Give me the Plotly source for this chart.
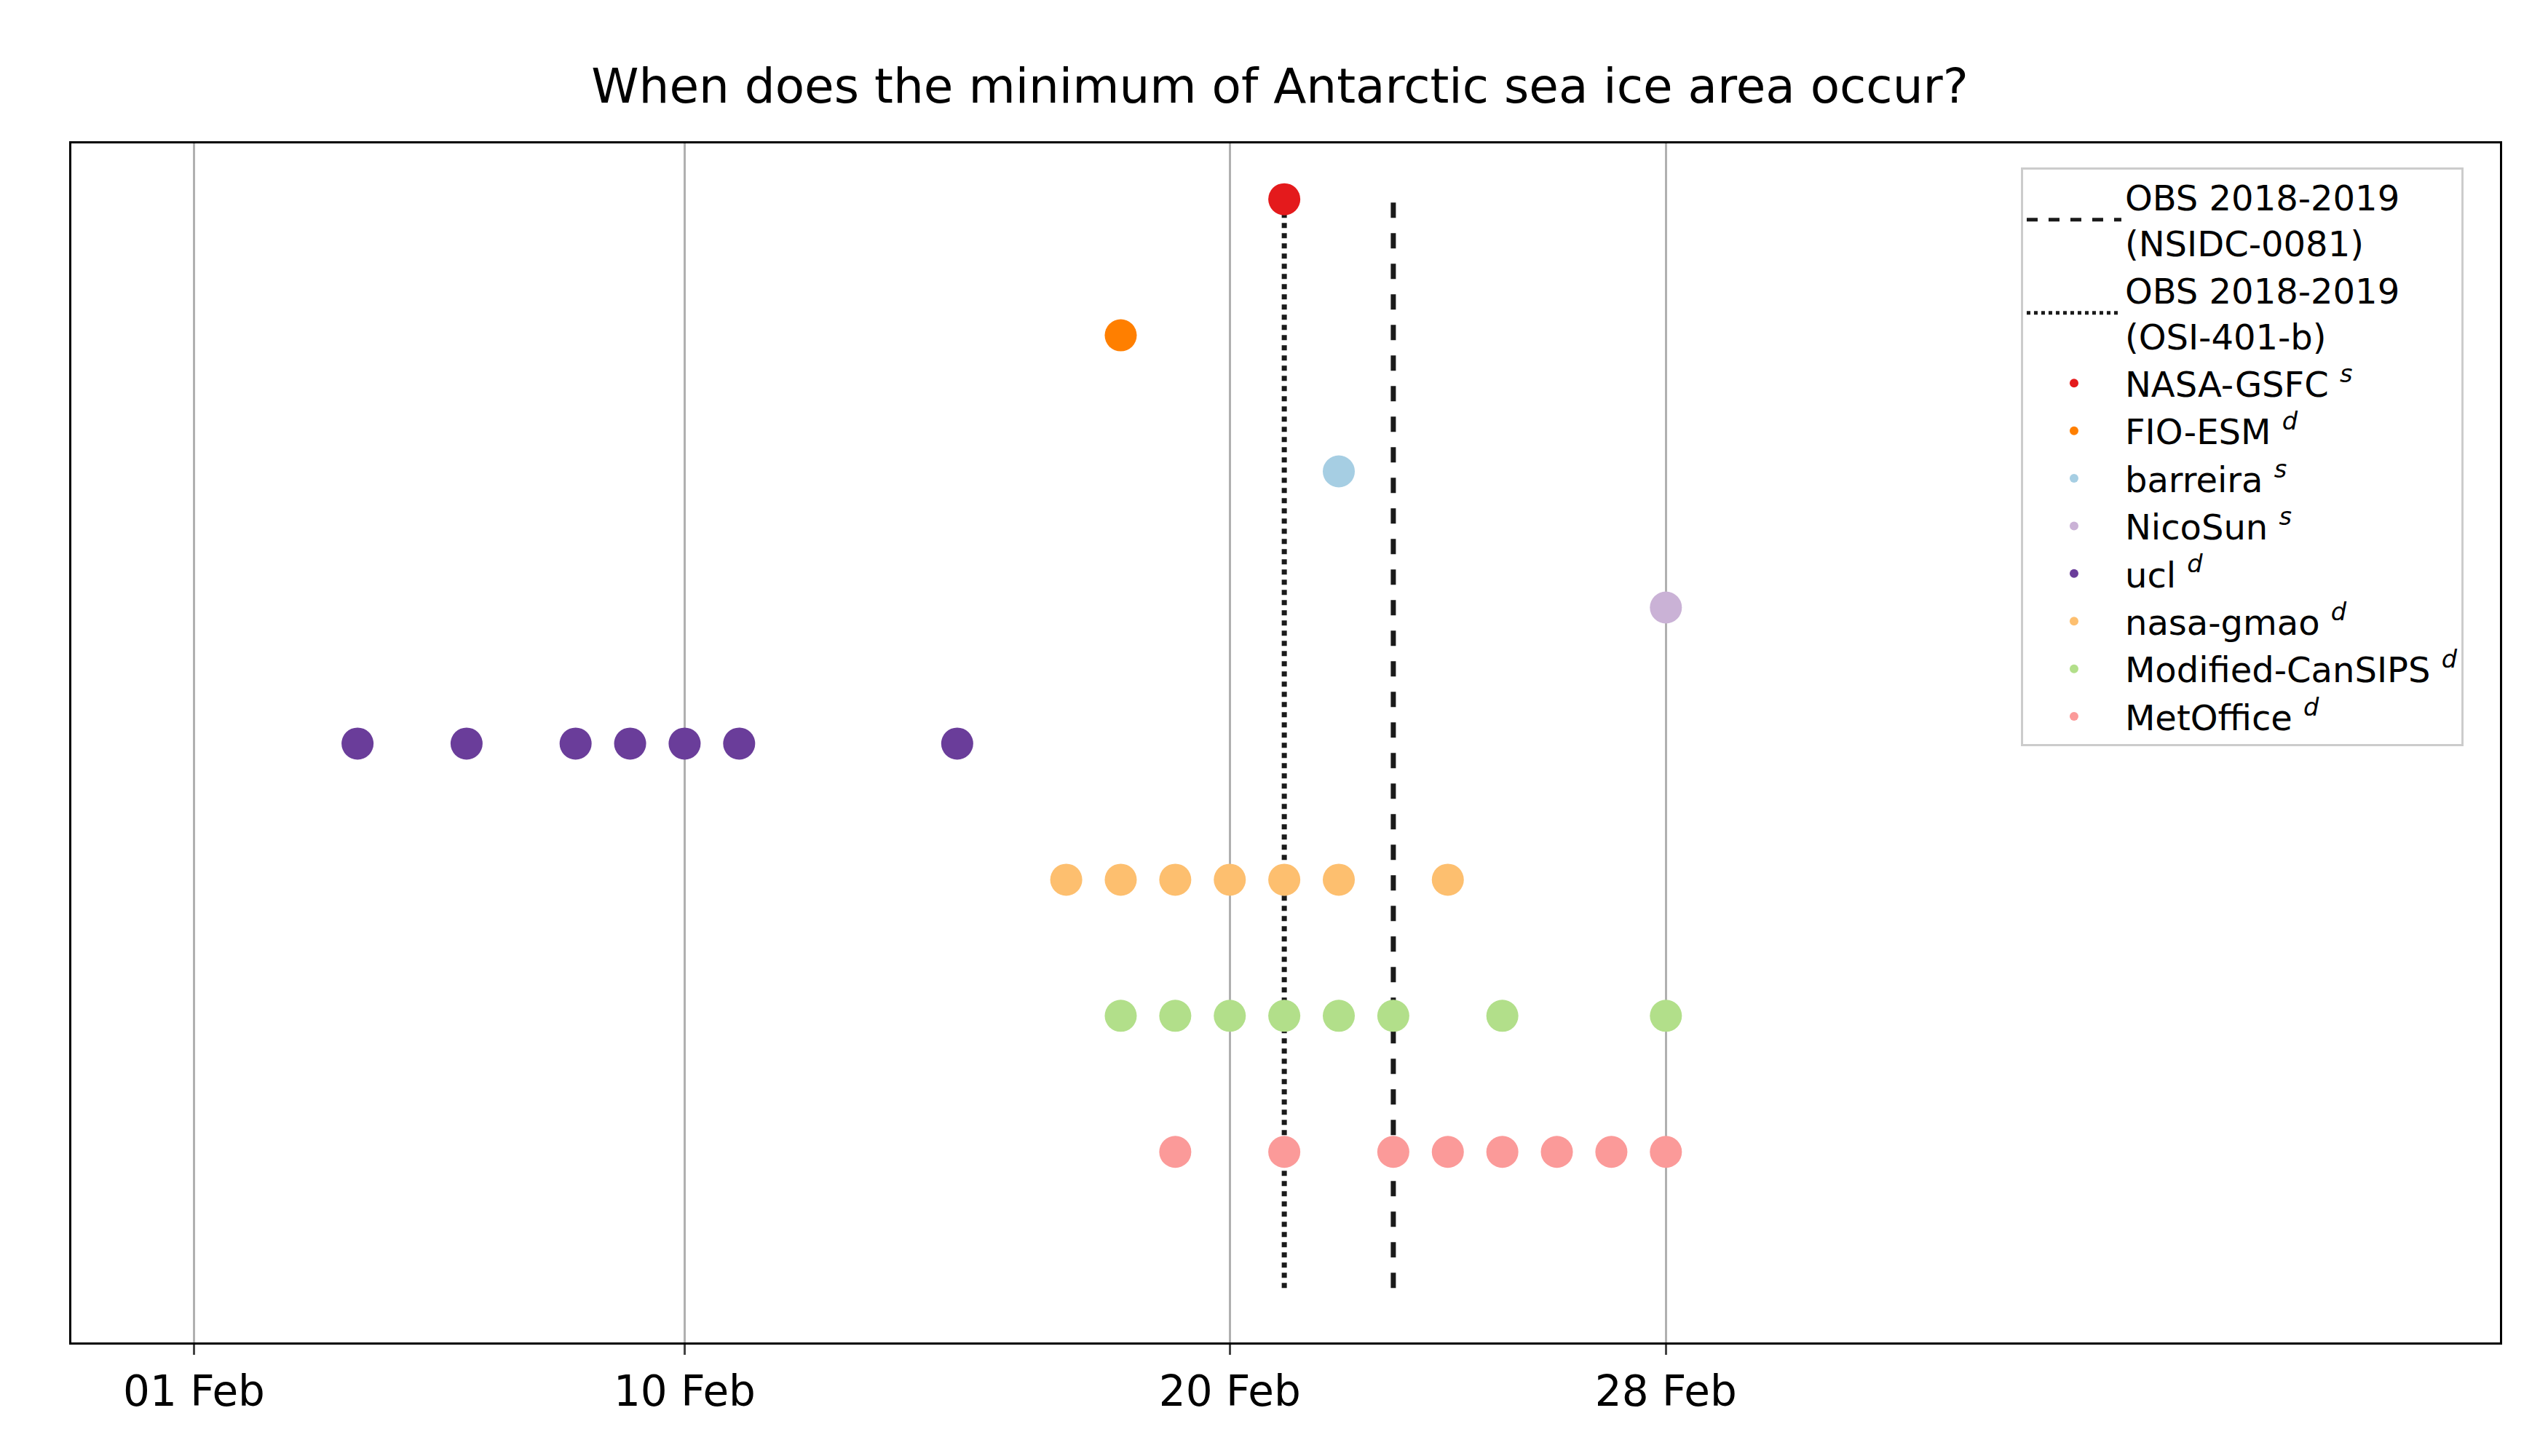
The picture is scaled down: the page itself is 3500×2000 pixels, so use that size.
import plotly.graph_objects as go

# day-of-February values
tick_days = [1, 10, 20, 28]
tick_labels = ["01 Feb", "10 Feb", "20 Feb", "28 Feb"]
obs_nsidc = 23
obs_osi = 21

names = ["NASA-GSFC <sup><i>s</i></sup>", "FIO-ESM <sup><i>d</i></sup>", "barreira <sup><i>s</i></sup>",
         "NicoSun <sup><i>s</i></sup>", "ucl <sup><i>d</i></sup>", "nasa-gmao <sup><i>d</i></sup>",
         "Modified-CanSIPS <sup><i>d</i></sup>", "MetOffice <sup><i>d</i></sup>"]
colors = ["#e41a1c", "#ff7f00", "#a6cee3", "#cab2d6", "#6a3d9a", "#fdbf6f", "#b2df8a", "#fb9a99"]
rows = [8, 7, 6, 5, 4, 3, 2, 1]
days = [
    [21],
    [18],
    [22],
    [28],
    [4, 6, 8, 9, 10, 11, 15],
    [17, 18, 19, 20, 21, 22, 24],
    [18, 19, 20, 21, 22, 23, 25, 28],
    [19, 21, 23, 24, 25, 26, 27, 28],
]

fig = go.Figure()
fig.add_trace(go.Scatter(x=[obs_nsidc, obs_nsidc], y=[0, 8], mode="lines",
                         line=dict(color="#1a1a1a", width=7, dash="dash"),
                         name="OBS 2018-2019<br>(NSIDC-0081)"))
fig.add_trace(go.Scatter(x=[obs_osi, obs_osi], y=[0, 8], mode="lines",
                         line=dict(color="#1a1a1a", width=7, dash="dot"),
                         name="OBS 2018-2019<br>(OSI-401-b)"))
for n, c, r, d in zip(names, colors, rows, days):
    fig.add_trace(go.Scatter(x=d, y=[r] * len(d), mode="markers", name=n,
                             marker=dict(color=c, size=44, line=dict(width=0))))

fig.update_layout(
    width=3500, height=2000, plot_bgcolor="white", paper_bgcolor="white",
    font=dict(family="DejaVu Sans", color="black"),
    margin=dict(l=90, r=74, t=189, b=164),
    title=dict(text="When does the minimum of Antarctic sea ice area occur?", x=0.5, xanchor="center",
               y=0.945, yanchor="middle", font=dict(size=66)),
    legend=dict(x=0.985, y=0.98, xanchor="right", yanchor="top", bordercolor="#cccccc",
                borderwidth=3, font=dict(size=48), bgcolor="white", tracegroupgap=8,
                itemsizing="constant", itemwidth=130),
    showlegend=True,
)
fig.update_xaxes(range=[-1.25, 43.3], tickvals=tick_days, ticktext=tick_labels,
                 showgrid=True, gridcolor="#b0b0b0", gridwidth=3, zeroline=False,
                 showline=True, linecolor="black", linewidth=3, mirror=True,
                 ticks="outside", ticklen=14, tickwidth=3, tickfont=dict(size=58))
fig.update_yaxes(range=[-0.4, 8.41], showticklabels=False, showgrid=False, zeroline=False,
                 showline=True, linecolor="black", linewidth=3, mirror=True)
fig.write_html("out.html")
